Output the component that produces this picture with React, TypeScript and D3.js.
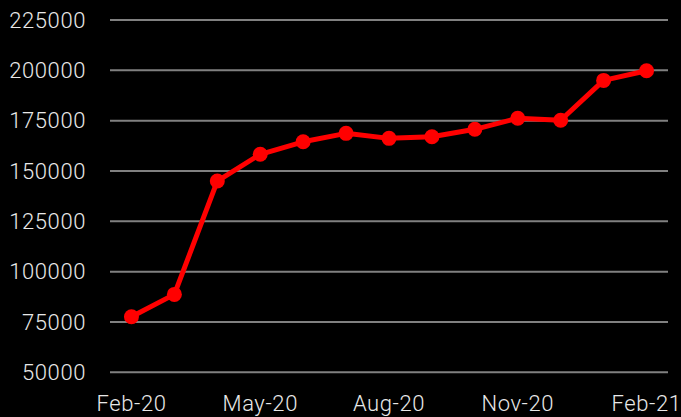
import { useEffect, useRef } from "react";
import * as d3 from "d3";

const months = [
  "Feb-20", "Mar-20", "Apr-20", "May-20", "Jun-20", "Jul-20", "Aug-20",
  "Sep-20", "Oct-20", "Nov-20", "Dec-20", "Jan-21", "Feb-21",
];
const values = [
  77600, 88700, 145000, 158300, 164500, 168700, 166200,
  167000, 170700, 176200, 175200, 195000, 199800,
];
const yTicks = [50000, 75000, 100000, 125000, 150000, 175000, 200000, 225000];
const xTickLabels = ["Feb-20", "May-20", "Aug-20", "Nov-20", "Feb-21"];

export default function App() {
  const svgRef = useRef<SVGSVGElement>(null);
  const width = 681;
  const height = 417;

  useEffect(() => {
    if (!svgRef.current) return;
    document.body.style.margin = "0";
    const svg = d3.select(svgRef.current);
    svg.selectAll("*").remove();

    const margin = { top: 20, right: 13, bottom: 44.7, left: 110 };
    const innerW = width - margin.left - margin.right;
    const innerH = height - margin.top - margin.bottom;

    svg.append("rect").attr("width", width).attr("height", height).attr("fill", "#000");

    const x = d3.scaleBand().domain(months).range([0, innerW]).padding(0);
    const y = d3.scaleLinear().domain([50000, 225000]).range([innerH, 0]);

    const g = svg.append("g").attr("transform", `translate(${margin.left},${margin.top})`);

    // gridlines
    g.selectAll("line.grid")
      .data(yTicks)
      .enter()
      .append("line")
      .attr("x1", 0)
      .attr("x2", innerW)
      .attr("y1", (d) => y(d))
      .attr("y2", (d) => y(d))
      .attr("stroke", "#808080")
      .attr("stroke-width", 2);

    const font = (sel: d3.Selection<SVGTextElement, any, any, any>) =>
      sel
        .attr("fill", "#e8e8e8")
        .attr("font-family", "Roboto, sans-serif")
        .attr("font-weight", 300)
        .attr("font-size", 22)
        .attr("letter-spacing", 0.6);

    // y labels
    g.selectAll("text.ylab")
      .data(yTicks)
      .enter()
      .append("text")
      .attr("x", -24)
      .attr("y", (d) => y(d))
      .attr("dy", "0.35em")
      .attr("text-anchor", "end")
      .call(font)
      .text((d) => String(d));

    // x labels
    g.selectAll("text.xlab")
      .data(xTickLabels)
      .enter()
      .append("text")
      .attr("x", (d) => x(d)! + x.bandwidth() / 2)
      .attr("y", innerH + 39)
      .attr("text-anchor", "middle")
      .call(font)
      .text((d) => d);

    const pts = months.map((m, i) => ({ m, v: values[i] }));
    const line = d3
      .line<{ m: string; v: number }>()
      .x((d) => x(d.m)! + x.bandwidth() / 2)
      .y((d) => y(d.v));

    g.append("path")
      .datum(pts)
      .attr("d", line)
      .attr("fill", "none")
      .attr("stroke", "#ff0000")
      .attr("stroke-width", 5)
      .attr("stroke-linejoin", "round");

    g.selectAll("circle")
      .data(pts)
      .enter()
      .append("circle")
      .attr("cx", (d) => x(d.m)! + x.bandwidth() / 2)
      .attr("cy", (d) => y(d.v))
      .attr("r", 7.5)
      .attr("fill", "#ff0000");
  }, []);

  return (
    <svg
      ref={svgRef}
      width={width}
      height={height}
      style={{ display: "block", position: "absolute", left: 0, top: 0 }}
    />
  );
}
